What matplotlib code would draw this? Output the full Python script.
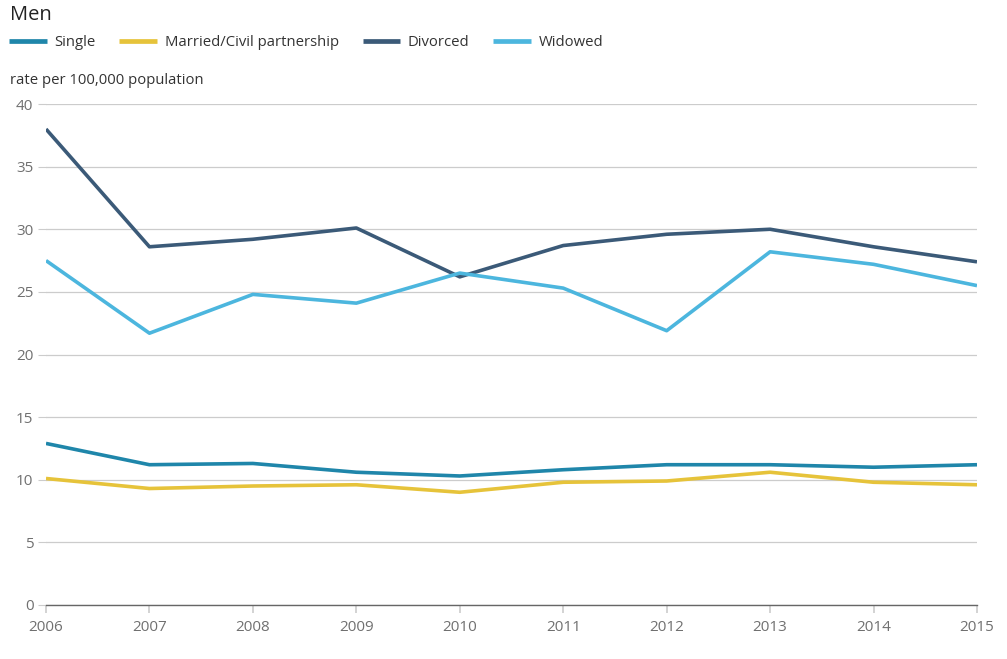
import matplotlib
matplotlib.use("Agg")
import matplotlib.pyplot as plt

plt.rcParams['font.family'] = ['Open Sans', 'DejaVu Sans']

years = [2006, 2007, 2008, 2009, 2010, 2011, 2012, 2013, 2014, 2015]
single = [12.9, 11.2, 11.3, 10.6, 10.3, 10.8, 11.2, 11.2, 11.0, 11.2]
married = [10.1, 9.3, 9.5, 9.6, 9.0, 9.8, 9.9, 10.6, 9.8, 9.6]
divorced = [38.0, 28.6, 29.2, 30.1, 26.2, 28.7, 29.6, 30.0, 28.6, 27.4]
widowed = [27.5, 21.7, 24.8, 24.1, 26.5, 25.3, 21.9, 28.2, 27.2, 25.5]

series = [
    ("Single", single, "#1f86aa"),
    ("Married/Civil partnership", married, "#e6c33a"),
    ("Divorced", divorced, "#3b5a78"),
    ("Widowed", widowed, "#4cb6de"),
]

fig = plt.figure(figsize=(10.07, 6.59), dpi=100)
W, H = 1007, 659
ax = fig.add_axes([46 / W, 1 - 605 / H, (977 - 46) / W, (605 - 104) / H])

for name, vals, col in series:
    ax.plot(years, vals, color=col, lw=2.6, label=name, solid_capstyle='butt')

ax.set_xlim(2006, 2015)
ax.set_ylim(0, 40)
ax.set_xticks(years)
ax.set_yticks(range(0, 41, 5))
ax.grid(axis='y', color='#cccccc', lw=0.9)
ax.set_axisbelow(True)
for s in ['top', 'right', 'left']:
    ax.spines[s].set_visible(False)
ax.spines['bottom'].set_color('#666666')
ax.spines['bottom'].set_linewidth(1.0)
ax.tick_params(axis='y', length=6, color='#cccccc', labelcolor='#707070',
               labelsize=11, pad=3)
ax.tick_params(axis='x', length=6, color='#cccccc', width=1.2,
               labelcolor='#707070', labelsize=11, pad=5)

fig.text(10 / W, 1 - 15 / H, "Men", fontsize=14.5, color='#222222', va='center')
fig.text(10 / W, 1 - 81 / H, "rate per 100,000 population", fontsize=10.7,
         color='#333333', va='center')

leg = fig.legend(loc='center left', bbox_to_anchor=(3 / W, 1 - 43 / H), ncol=4,
                 frameon=False, fontsize=10.7, handlelength=2.55,
                 handletextpad=0.5, columnspacing=1.6, borderaxespad=0)
for line in leg.get_lines():
    line.set_linewidth(3.4)
for t in leg.get_texts():
    t.set_color('#333333')

fig.savefig("out.png", dpi=100)
